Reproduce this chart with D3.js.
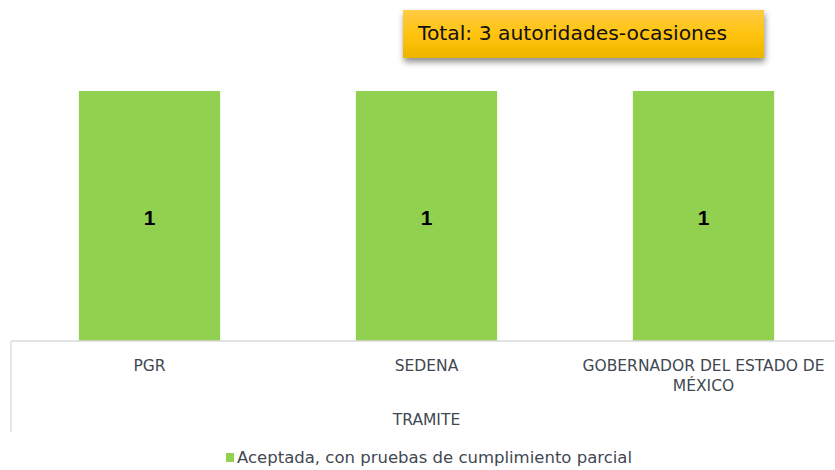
<!DOCTYPE html>
<html><head><meta charset="utf-8">
<script src="https://cdn.jsdelivr.net/npm/d3@7"></script>
<style>body{margin:0;background:#fff;} svg{display:block;}</style>
</head><body>
<script>
const categories = ["PGR", "SEDENA", "GOBERNADOR DEL ESTADO DE MÉXICO"];
const values = [1, 1, 1];
const groupLabel = "TRAMITE";
const seriesName = "Aceptada, con pruebas de cumplimiento parcial";
const titleText = "Total: 3 autoridades-ocasiones";

(function(){
const W = 835, H = 470;
const svg = d3.select("body").append("svg").attr("width", W).attr("height", H);
const defs = svg.append("defs");
const grad = defs.append("linearGradient").attr("id","g").attr("x1",0).attr("y1",0).attr("x2",0).attr("y2",1);
grad.append("stop").attr("offset","0%").attr("stop-color","#FFCB45");
grad.append("stop").attr("offset","55%").attr("stop-color","#FFC30A");
grad.append("stop").attr("offset","100%").attr("stop-color","#EDB500");
const f = defs.append("filter").attr("id","sh").attr("x","-10%").attr("y","-30%").attr("width","130%").attr("height","180%");
f.append("feDropShadow").attr("dx",1).attr("dy",4).attr("stdDeviation",3).attr("flood-color","#000").attr("flood-opacity",0.45);

const leftX = 11, bottomY = 341, topY = 91;
const x = d3.scaleBand().domain(categories).range([leftX, leftX + 831]).paddingInner(0.49).paddingOuter(0.245);
const y = d3.scaleLinear().domain([0, 1]).range([bottomY, topY]);

const font = "'DejaVu Sans', sans-serif";
const txtCol = "#3F4852";

svg.selectAll("rect.bar").data(values).join("rect").attr("class","bar")
  .attr("x", (d,i) => x(categories[i])).attr("width", x.bandwidth())
  .attr("y", d => y(d)).attr("height", d => y(0) - y(d)).attr("fill", "#92D050");

svg.selectAll("text.val").data(values).join("text").attr("class","val")
  .attr("x", (d,i) => x(categories[i]) + x.bandwidth()/2)
  .attr("y", d => (y(d)+y(0))/2 + 9)
  .attr("text-anchor","middle").attr("font-family","Arial, 'Liberation Sans', sans-serif")
  .attr("font-weight","bold").attr("font-size",21).attr("fill","#000").text(d => d);

const ax = svg.append("g").attr("transform", `translate(0,${bottomY})`)
  .call(d3.axisBottom(x).tickSize(0).tickPadding(0).tickFormat(() => ""));
ax.select(".domain").attr("stroke","#D9D9D9").attr("stroke-width",1.3).attr("d", `M${leftX},0H${W}`);
svg.append("line").attr("x1",leftX).attr("x2",leftX).attr("y1",bottomY).attr("y2",432).attr("stroke","#D9D9D9").attr("stroke-width",1.3);

const lines = {"GOBERNADOR DEL ESTADO DE MÉXICO": ["GOBERNADOR DEL ESTADO DE", "MÉXICO"]};
ax.selectAll(".tick").each(function(c){
  const t = d3.select(this).append("text").attr("fill",txtCol).attr("font-family",font).attr("font-size",15.5).attr("text-anchor","middle");
  (lines[c] || [c]).forEach((l,i) => t.append("tspan").attr("x",0).attr("y", 30 + i*20).text(l));
});
svg.append("text").attr("x", x(categories[1]) + x.bandwidth()/2).attr("y", 425).attr("text-anchor","middle")
  .attr("fill",txtCol).attr("font-family",font).attr("font-size",15.5).text(groupLabel);

svg.append("rect").attr("x",226).attr("y",453).attr("width",8).attr("height",9).attr("fill","#92D050");
svg.append("text").attr("x",237).attr("y",463).attr("fill",txtCol).attr("font-family",font).attr("font-size",16.5).text(seriesName);

svg.append("rect").attr("x",403).attr("y",10).attr("width",361).attr("height",48).attr("fill","url(#g)").attr("filter","url(#sh)");
svg.append("text").attr("x",418).attr("y",40).attr("fill","#111").attr("font-family",font).attr("font-size",20.3).text(titleText);
})();
</script>
</body></html>
